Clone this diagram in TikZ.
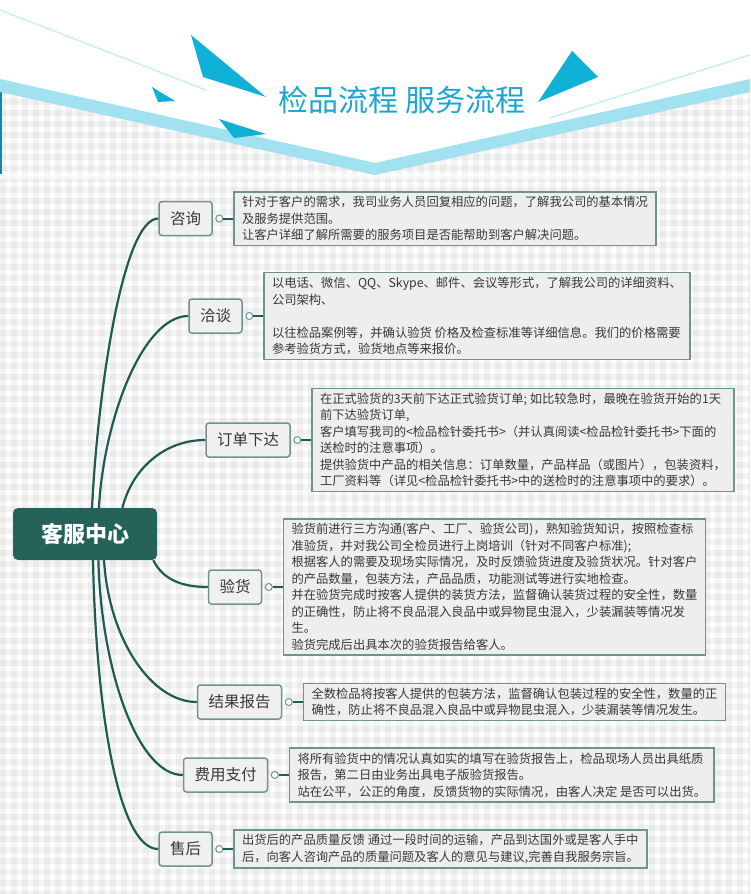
\documentclass[tikz,border=0pt]{standalone}
\usepackage{fontspec}
\setmainfont{Noto Sans CJK SC}
\usetikzlibrary{positioning}

\definecolor{tuerkis}{HTML}{0FB1D6}
\definecolor{titelblau}{HTML}{1BA7D4}
\definecolor{bandblau}{HTML}{A2E1F0}
\definecolor{hellblau}{HTML}{C9EEF8}
\definecolor{astgruen}{HTML}{1E5B52}
\definecolor{dunkelgruen}{HTML}{24625A}
\definecolor{randgrau}{HTML}{6E948F}
\definecolor{knotengrau}{HTML}{F0F0F0}
\definecolor{boxgrau}{HTML}{EEEEEE}
\definecolor{textgrau}{HTML}{383838}

\begin{document}
\begin{tikzpicture}[x=1pt,y=-1pt,
	zweig/.style={draw=randgrau,line width=1.5pt,fill=knotengrau,rounded corners=3pt,
		inner xsep=11pt,minimum height=34pt,text=textgrau,font=\fontsize{15.5}{18}\selectfont},
	textbox/.style={draw=randgrau,line width=1.5pt,fill=boxgrau,align=left,
		inner xsep=8pt,inner ysep=4.5pt,text=textgrau,font=\fontsize{12.3}{16.5}\selectfont},
	knopf/.style={circle,draw=randgrau,fill=white,line width=1pt,minimum size=7pt,inner sep=0pt},
	ast/.style={draw=astgruen,line width=2.2pt},
	kurz/.style={draw=astgruen,line width=2pt}]
		\useasboundingbox (0,0) rectangle (750,894);
		
		% Hintergrund
		\fill[white] (0,0) rectangle (750,894);
		\begin{scope}
			\clip (0,88) -- (375,172) -- (750,88) -- (750,894) -- (0,894) -- cycle;
			\foreach \i in {0,11,...,750}
				\fill[black,fill opacity=0.045] (\i,0) rectangle +(5.5,894);
			\foreach \j in {0,11,...,894}
				\fill[black,fill opacity=0.045] (0,\j) rectangle +(750,5.5);
		\end{scope}
		\fill[white,fill opacity=0.6] (0,174) rectangle (750,179);
		\fill[titelblau!80!black] (0,92) rectangle (2,174);
		
		% Kopfzeile
		\draw[hellblau,line width=1.5pt] (0,10) -- (206,90);
		\draw[hellblau,line width=1.5pt] (550,118) -- (750,55);
		\fill[bandblau] (0,79) -- (375,163) -- (750,79) -- (750,92) -- (375,175) -- (0,92) -- cycle;
		\fill[tuerkis] (191,35) -- (203,77) -- (266,97) -- cycle;
		\fill[tuerkis] (152,87) -- (158,102) -- (175,101) -- cycle;
		\fill[tuerkis] (219,119) -- (234,138) -- (266,134) -- cycle;
		\fill[tuerkis] (572,51) -- (598,77) -- (538,102) -- cycle;
		\node[text=titelblau,font=\fontsize{30}{36}\selectfont] (titel) at (402,100) {检品流程 服务流程};
		
		% Zentrum
		\node[fill=dunkelgruen,rounded corners=5pt,minimum width=144pt,minimum height=52pt,
			text=white,font=\fontsize{22}{26}\selectfont\bfseries] (kefu) at (85,534) {客服中心};
		
		% Zweige
		\node[zweig] (zixun) at (185.5,218.5) {咨询};
		\node[zweig] (qiatan) at (215.5,316) {洽谈};
		\node[zweig] (dingdan) at (248,440) {订单下达};
		\node[zweig] (yanhuo) at (235,587) {验货};
		\node[zweig] (jieguo) at (239.5,702) {结果报告};
		\node[zweig] (feiyong) at (225.5,775) {费用支付};
		\node[zweig] (shouhou) at (185.5,849) {售后};
		
		% Knoepfe
		\node[knopf,right=2.5pt of zixun] (k1) {};
		\node[knopf,right=2.5pt of qiatan] (k2) {};
		\node[knopf,right=2.5pt of dingdan] (k3) {};
		\node[knopf,right=2.5pt of yanhuo] (k4) {};
		\node[knopf,right=2.5pt of jieguo] (k5) {};
		\node[knopf,right=2.5pt of feiyong] (k6) {};
		\node[knopf,right=2.5pt of shouhou] (k7) {};
		
		% Texte
		\node[textbox,right=10pt of k1] (t1) {针对于客户的需求，我司业务人员回复相应的问题，了解我公司的基本情况\\
			及服务提供范围。\\
			让客户详细了解所需要的服务项目是否能帮助到客户解决问题。};
		\node[textbox,right=10pt of k2] (t2) {以电话、微信、QQ、Skype、邮件、会议等形式，了解我公司的详细资料、\\
			公司架构、\\[16.5pt]
			以往检品案例等，并确认验货 价格及检查标准等详细信息。我们的价格需要\\
			参考验货方式，验货地点等来报价。};
		\node[textbox,right=10pt of k3] (t3) {在正式验货的3天前下达正式验货订单; 如比较急时，最晚在验货开始的1天\\
			前下达验货订单,\\
			客户填写我司的<检品检针委托书>（并认真阅读<检品检针委托书>下面的\\
			送检时的注意事项）。\\
			提供验货中产品的相关信息：订单数量，产品样品（或图片），包装资料，\\
			工厂资料等（详见<检品检针委托书>中的送检时的注意事项中的要求）。};
		\node[textbox,right=10pt of k4] (t4) {验货前进行三方沟通(客户、工厂、验货公司)，熟知验货知识，按照检查标\\
			准验货，并对我公司全检员进行上岗培训（针对不同客户标准);\\
			根据客人的需要及现场实际情况，及时反馈验货进度及验货状况。针对客户\\
			的产品数量，包装方法，产品品质，功能测试等进行实地检查。\\
			并在验货完成时按客人提供的装货方法，监督确认装货过程的安全性，数量\\
			的正确性，防止将不良品混入良品中或异物昆虫混入，少装漏装等情况发\\
			生。\\
			验货完成后出具本次的验货报告给客人。};
		\node[textbox,right=10pt of k5] (t5) {全数检品将按客人提供的包装方法，监督确认包装过程的安全性，数量的正\\
			确性，防止将不良品混入良品中或异物昆虫混入，少装漏装等情况发生。};
		\node[textbox,right=10pt of k6] (t6) {将所有验货中的情况认真如实的填写在验货报告上，检品现场人员出具纸质\\
			报告，第二日由业务出具电子版验货报告。\\
			站在公平，公正的角度，反馈货物的实际情况，由客人决定 是否可以出货。};
		\node[textbox,right=10pt of k7] (t7) {出货后的产品质量反馈 通过一段时间的运输，产品到达国外或是客人手中\\
			后，向客人咨询产品的质量问题及客人的意见与建议,完善自我服务宗旨。};
		
		% Verbindungen
		\draw[ast] (kefu.75) .. controls +(6,-120) and +(-35,0) .. (zixun.west);
		\draw[ast] (kefu.62) .. controls +(5,-90) and +(-45,0) .. (qiatan.west);
		\draw[ast] (kefu.35) .. controls +(10,-40) and +(-40,0) .. (dingdan.west);
		\draw[ast] (kefu.-21) .. controls +(10,20) and +(-25,0) .. (yanhuo.west);
		\draw[ast] (kefu.-54) .. controls +(5,80) and +(-45,0) .. (jieguo.west);
		\draw[ast] (kefu.-63) .. controls +(3,110) and +(-45,0) .. (feiyong.west);
		\draw[ast] (kefu.-73) .. controls +(3,150) and +(-40,0) .. (shouhou.west);
		\foreach \k/\t in {k1/t1,k2/t2,k3/t3,k4/t4,k5/t5,k6/t6,k7/t7}
			\draw[kurz] (\k) -- (\t);
	\end{tikzpicture}
\end{document}
